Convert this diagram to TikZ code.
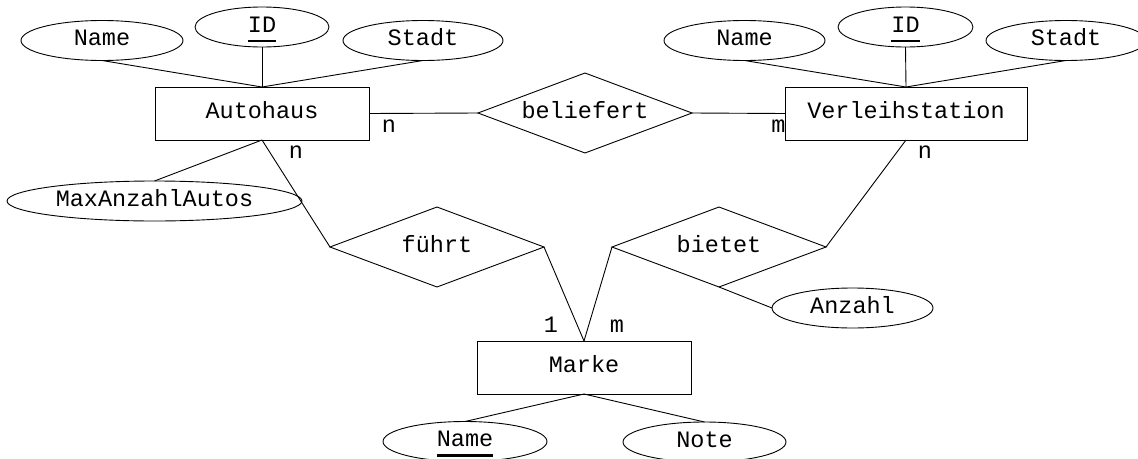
\documentclass[tikz,border=0pt]{standalone}
\usepackage{fontspec}
\usetikzlibrary{shapes.geometric}
\newfontfamily\ermono{Liberation Mono}
% key attribute: text with a thick bar under it
\newcommand\pkey[1]{\setbox0=\hbox{#1}\rlap{\copy0}\smash{\raisebox{-10pt}{\rule{\wd0}{2.5pt}}}}
\tikzset{
  every node/.style={font=\ermono\fontsize{23.5}{28}\selectfont, text height=17pt, text depth=7pt, inner sep=0pt, outer sep=0pt},
  entity/.style={draw, rectangle, minimum height=53pt, line width=1pt},
  attr/.style={draw, ellipse, minimum height=40pt, line width=0.9pt},
  rel/.style={draw, diamond, shape aspect=2.675, minimum width=214pt, minimum height=80pt, line width=0.9pt},
  card/.style={anchor=base, text height=, text depth=},
  link/.style={line width=0.9pt}
}
\begin{document}
\begin{tikzpicture}[x=1pt, y=-1pt]
\useasboundingbox (0,0) rectangle (1138,458);
\clip (0,0) rectangle (1138,458);

% entities
\node[entity, minimum width=214pt] (ah) at (262,113.5) {Autohaus};
\node[entity, minimum width=242pt] (vs) at (906,113.5) {Verleihstation};
\node[entity, minimum width=214pt] (mk) at (584,367.5) {Marke};

% relationships
\node[rel] (bel) at (585,113) {\makebox[0pt]{beliefert}};
\node[rel] (fue) at (437,247) {\makebox[0pt]{führt}};
\node[rel] (bie) at (719,247) {\makebox[0pt]{bietet}};

% attributes of Autohaus
\node[attr, minimum width=162pt] (ahname) at (102,40.5) {Name};
\node[attr, minimum width=134pt] (ahid) at (262,27) {\pkey{ID}};
\node[attr, minimum width=160pt] (ahstadt) at (423,40.5) {Stadt};
\node[attr, minimum width=295pt] (ahmax) at (154.5,201) {MaxAnzahlAutos};

% attributes of Verleihstation
\node[attr, minimum width=161pt] (vsname) at (744.5,40.5) {Name};
\node[attr, minimum width=135pt] (vsid) at (905.5,27) {\pkey{ID}};
\node[attr, minimum width=160pt] (vsstadt) at (1066,40.5) {Stadt};

% attribute of bietet
\node[attr, minimum width=161pt] (anz) at (852.5,308) {Anzahl};

% attributes of Marke
\node[attr, minimum width=164pt] (mkname) at (465,441.5) {\pkey{Name}};
\node[attr, minimum width=163pt] (mknote) at (704.5,442) {Note};

% attribute links
\draw[link] (ahname.south) -- (ah.north);
\draw[link] (ahid.south) -- (ah.north);
\draw[link] (ahstadt.south) -- (ah.north);
\draw[link] (ahmax.north) -- (ah.south);
\draw[link] (vsname.south) -- (vs.north);
\draw[link] (vsid.south) -- (vs.north);
\draw[link] (vsstadt.south) -- (vs.north);
\draw[link] (bie.south) -- (anz.west);
\draw[link] (mk.south) -- (mkname.north);
\draw[link] (mk.south) -- (mknote.north);

% relationship links
\draw[link] (ah.east) -- (bel.west);
\draw[link] (bel.east) -- (vs.west);
\draw[link] (ah.south) -- (fue.west);
\draw[link] (fue.east) -- (mk.north);
\draw[link] (bie.west) -- (mk.north);
\draw[link] (vs.south) -- (bie.east);

% cardinalities
\node[card] (c1) at (389,132) {n};
\node[card] (c2) at (778.5,132) {m};
\node[card] (c3) at (296,158) {n};
\node[card] (c4) at (925,158) {n};
\node[card] (c5) at (551,332) {1};
\node[card] (c6) at (617,332) {m};
\end{tikzpicture}
\end{document}
